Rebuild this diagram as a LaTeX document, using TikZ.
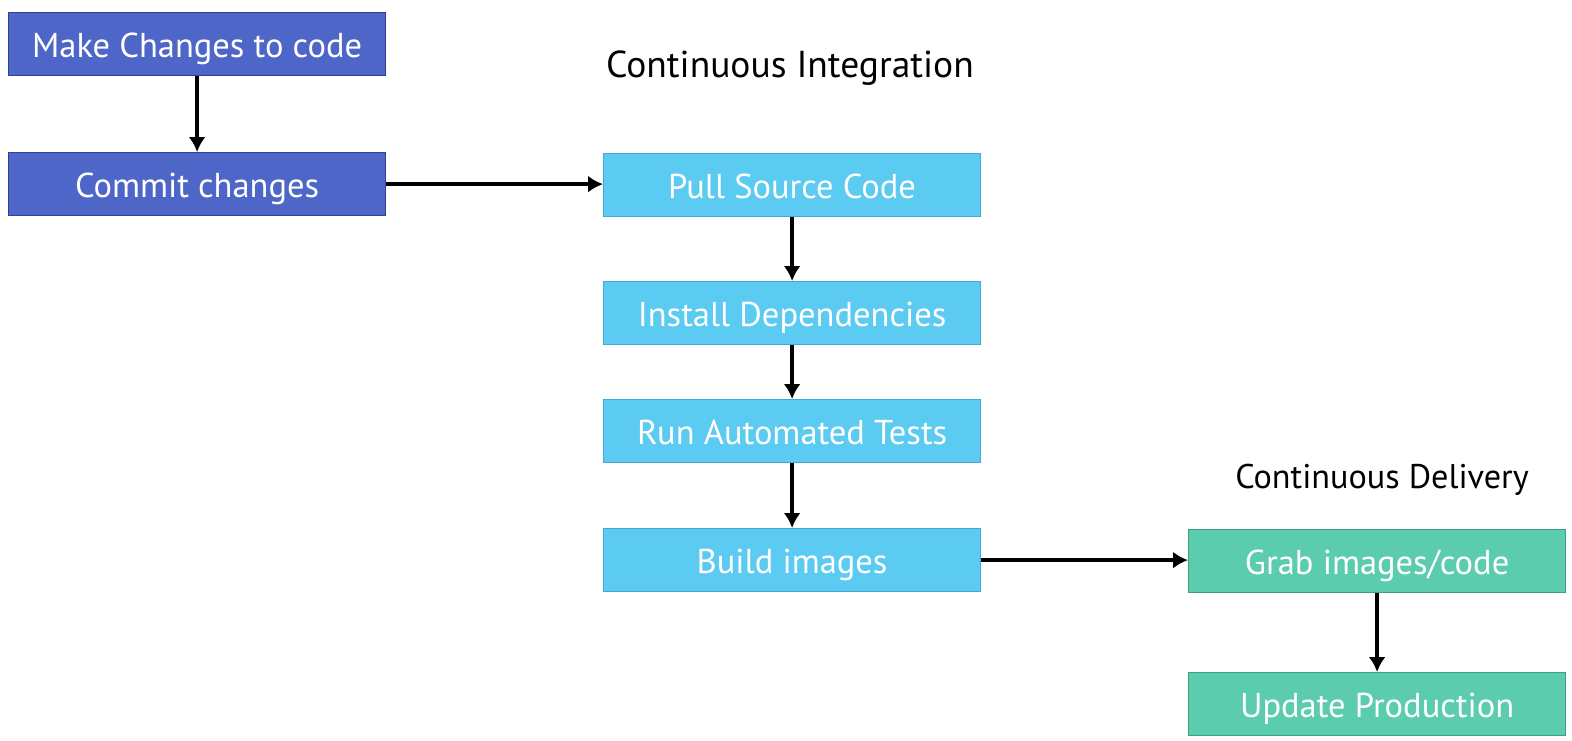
\documentclass[tikz,border=0pt]{standalone}
\usepackage{fontspec}
\setmainfont{PT Sans}
\usetikzlibrary{arrows.meta}
\definecolor{bluefill}{HTML}{4F66C9}
\definecolor{blueline}{HTML}{2E3F96}
\definecolor{cyanfill}{HTML}{5BCBF1}
\definecolor{cyanline}{HTML}{45A6CF}
\definecolor{greenfill}{HTML}{5BCDAE}
\definecolor{greenline}{HTML}{3F9E84}
\tikzset{
  box/.style={draw, line width=1.2pt, minimum width=377pt, minimum height=63pt, inner sep=0pt, text height=27pt, text depth=0pt, text=white, font=\fontsize{34.5}{40}\selectfont, anchor=north west},
  devbox/.style={box, fill=bluefill, draw=blueline},
  cibox/.style={box, fill=cyanfill, draw=cyanline},
  cdbox/.style={box, fill=greenfill, draw=greenline},
  title/.style={font=\fontsize{37.5}{42}\selectfont, text=black},
  conn/.style={line width=3.6pt, -{Latex[length=15pt,width=17pt]}}
}
\begin{document}
\begin{tikzpicture}[x=1pt,y=-1pt]
\useasboundingbox (0,0) rectangle (1572,740);
\node[devbox] (make) at (8,12) {Make Changes to code};
\node[devbox] (commit) at (8,152) {Commit changes};
\node[title] (ci) at (790,68) {Continuous Integration};
\node[cibox] (pull) at (603,153) {Pull Source Code};
\node[cibox] (install) at (603,281) {Install Dependencies};
\node[cibox] (tests) at (603,399) {Run Automated Tests};
\node[cibox] (build) at (603,528) {Build images};
\node[title, font=\fontsize{34.2}{40}\selectfont] (cd) at (1382,480) {Continuous Delivery};
\node[cdbox] (grab) at (1188,529) {Grab images/code};
\node[cdbox] (update) at (1188,672) {Update Production};
\draw[conn] (make) -- (commit);
\draw[conn] (commit.east) -- (pull.west |- commit.east);
\draw[conn] (pull) -- (install);
\draw[conn] (install) -- (tests);
\draw[conn] (tests) -- (build);
\draw[conn] (build.east) -- (grab.west |- build.east);
\draw[conn] (grab) -- (update);
\end{tikzpicture}
\end{document}
